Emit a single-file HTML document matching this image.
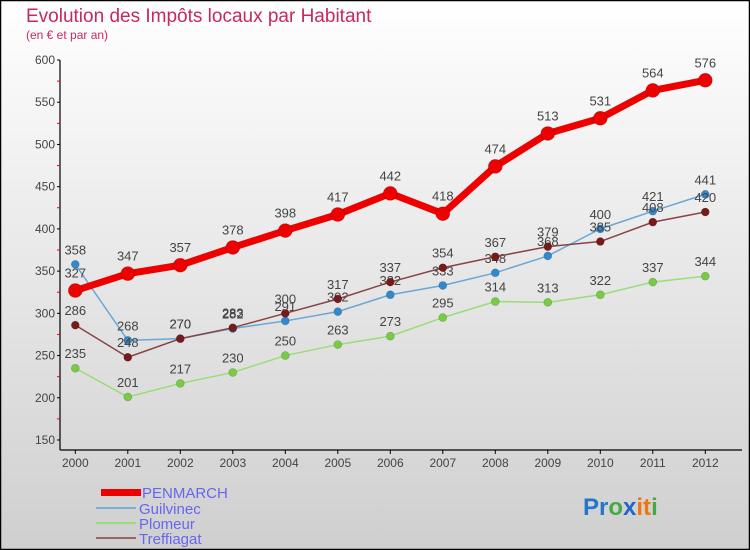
<!DOCTYPE html>
<html><head><meta charset="utf-8"><style>
html,body{margin:0;padding:0;width:750px;height:550px;overflow:hidden;font-family:"Liberation Sans",sans-serif}
</style></head><body>
<svg id="chart" width="750" height="550" xmlns="http://www.w3.org/2000/svg" style="display:block">
<defs>
<linearGradient id="bg" x1="0" y1="0" x2="0" y2="1"><stop offset="0" stop-color="#ffffff"/><stop offset="1" stop-color="#cfcfcf"/></linearGradient>
</defs>
<rect x="0.5" y="0.5" width="749" height="549" fill="url(#bg)" stroke="#000" stroke-width="1.5"/>
<text x="26" y="22" font-size="19" fill="#c8285a">Evolution des Impôts locaux par Habitant</text>
<text x="26" y="39" font-size="12" fill="#c8285a">(en € et par an)</text>
<g id="axes"></g>
<g id="series"></g>
<g id="legend">
<rect x="101" y="489" width="40" height="7" fill="#ee0000"/>
<text x="142" y="498" font-size="15" fill="#6666ee">PENMARCH</text>
<rect x="96" y="507" width="40" height="2" fill="#7aaed6"/>
<text x="139" y="514" font-size="15" fill="#6666ee">Guilvinec</text>
<rect x="96" y="522" width="40" height="2" fill="#99dd77"/>
<text x="139" y="529" font-size="15" fill="#6666ee">Plomeur</text>
<rect x="96" y="537" width="40" height="2" fill="#996666"/>
<text x="139" y="544" font-size="15" fill="#6666ee">Treffiagat</text>
</g>
<text x="583" y="515" font-size="24" font-weight="bold"><tspan fill="#2277cc">Pr</tspan><tspan fill="#44aa44">o</tspan><tspan fill="#2266cc">x</tspan><tspan fill="#ee7711">it</tspan><tspan fill="#44aa44">i</tspan></text>
</svg>
<script>
const years=["2000","2001","2002","2003","2004","2005","2006","2007","2008","2009","2010","2011","2012"];
const penmarch=[327,347,357,378,398,417,442,418,474,513,531,564,576];
const guilvinec=[358,268,270,282,291,302,322,333,348,368,400,421,441];
const plomeur=[235,201,217,230,250,263,273,295,314,313,322,337,344];
const treffiagat=[286,248,270,283,300,317,337,354,367,379,385,408,420];
const yTicks=[150,200,250,300,350,400,450,500,550,600];

const NS="http://www.w3.org/2000/svg";
function xs(i){return 75.3+i*52.5;}
function ys(v){return 60+(600-v)*(380/450);}
function mk(tag,attrs,parent){const e=document.createElementNS(NS,tag);for(const k in attrs)e.setAttribute(k,attrs[k]);parent.appendChild(e);return e;}
const axes=document.getElementById('axes');
const ser=document.getElementById('series');
let l=mk('line',{x1:60,y1:60,x2:60,y2:450,stroke:'#000','stroke-width':1.2},axes);


l=mk('line',{x1:60,y1:450,x2:742,y2:450,stroke:'#000','stroke-width':1.2},axes);


yTicks.forEach((t,i)=>{
  const y=ys(t);
  let tk=mk('line',{x1:57,y1:y,x2:60,y2:y,stroke:'#000'},axes);
  
  
  let tx=mk('text',{x:55,y:y+4,'text-anchor':'end','font-size':12,fill:'#444'},axes);
  tx.textContent=t;
  
  
  if(i<yTicks.length-1){
    const ym=ys(t+25);
    let m=mk('line',{x1:57,y1:ym,x2:60,y2:ym,stroke:'#e00'},axes);
    
    
  }
});
years.forEach((yr,i)=>{
  const x=xs(i);
  let tk=mk('line',{x1:x,y1:450,x2:x,y2:454,stroke:'#000'},axes);
  
  
  let tx=mk('text',{x:x,y:467,'text-anchor':'middle','font-size':12,fill:'#444'},axes);
  tx.textContent=yr;
  
  
});
function draw(name,data,color,w,r,mcolor){
  const g=mk('g',{},ser);
  
  
  const pts=data.map((v,i)=>xs(i)+','+ys(v)).join(' ');
  const pl=mk('polyline',{points:pts,fill:'none',stroke:color,'stroke-width':w,'stroke-linejoin':'round'},g);
  
  
  data.forEach((v,i)=>{
    const c=mk('circle',{cx:xs(i),cy:ys(v),r:r,fill:mcolor,stroke:'rgba(0,0,0,0.2)','stroke-width':0.7},g);
    
    
    const t=mk('text',{x:xs(i),y:ys(v)-(r+6),'text-anchor':'middle','font-size':13,fill:'#444'},g);
    t.textContent=v;
    
    
  });
}
draw('plomeur',plomeur,'#99dd77',1.5,4,'#77cc44');
draw('guilvinec',guilvinec,'#6aa6d6',1.5,4,'#3388cc');
draw('treffiagat',treffiagat,'#884444',1.5,4,'#771a1a');
draw('penmarch',penmarch,'#ee0000',7,7,'#ee0000');
</script>
</body></html>
